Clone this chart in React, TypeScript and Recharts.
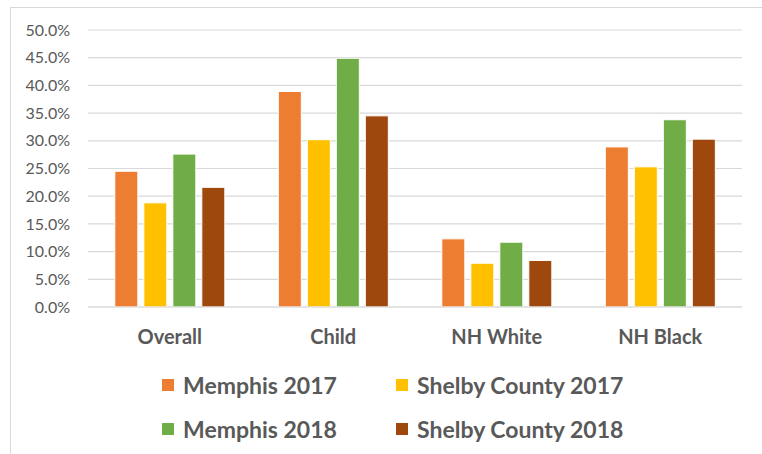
import React from 'react';
import { BarChart, Bar, XAxis, YAxis, CartesianGrid, Legend } from 'recharts';

const categories = ['Overall', 'Child', 'NH White', 'NH Black'];
const memphis2017 = [24.5, 38.9, 12.3, 28.9];
const shelby2017 = [18.8, 30.2, 7.9, 25.3];
const memphis2018 = [27.6, 44.9, 11.7, 33.8];
const shelby2018 = [21.6, 34.5, 8.4, 30.3];
const yTicks = [0, 5, 10, 15, 20, 25, 30, 35, 40, 45, 50];

const seriesNames = ['Memphis 2017', 'Shelby County 2017', 'Memphis 2018', 'Shelby County 2018'];
const seriesKeys = ['m17', 's17', 'm18', 's18'];
const colors = ['#ED7D31', '#FFC000', '#70AD47', '#9E480E'];

const data = categories.map((c, i) => ({
  name: c,
  m17: memphis2017[i],
  s17: shelby2017[i],
  m18: memphis2018[i],
  s18: shelby2018[i],
}));

const FONT = 'Lato, "Open Sans", sans-serif';

const LegendContent = () => {
  const cols = [162, 396];
  const rows = [0, 44];
  return (
    <div style={{ position: 'relative', width: 762, height: 80, fontFamily: FONT }}>
      {seriesNames.map((n, i) => {
        const col = i % 2;
        const row = Math.floor(i / 2);
        return (
          <div
            key={n}
            style={{
              position: 'absolute',
              left: cols[col],
              top: rows[row],
              display: 'flex',
              alignItems: 'center',
              whiteSpace: 'nowrap',
              height: 24,
            }}
          >
            <span style={{ display: 'inline-block', width: 12, height: 12, background: colors[i], marginRight: 9 }} />
            <span style={{ fontSize: 23, fontWeight: 700, color: '#595959', lineHeight: '24px' }}>{n}</span>
          </div>
        );
      })}
    </div>
  );
};

export default function App() {
  return (
    <div style={{ position: 'fixed', left: 0, top: 0, width: 762, height: 454, overflow: 'hidden', background: '#fff' }}>
      <div
        style={{
          position: 'absolute',
          left: 10,
          top: 7,
          width: 800,
          height: 500,
          border: '1px solid #d9d9d9',
          boxSizing: 'border-box',
        }}
      />
      <div style={{ position: 'absolute', left: 0, top: 0 }}>
        <BarChart
          width={762}
          height={454}
          data={data}
          margin={{ top: 30, right: 20, bottom: 107, left: 0 }}
          barCategoryGap="16.4%"
          barGap={6}
        >
          <CartesianGrid vertical={false} stroke="#d9d9d9" strokeWidth={1.2} />
          <XAxis
            dataKey="name"
            height={40}
            axisLine={{ stroke: '#d9d9d9', strokeWidth: 1.2 }}
            tickLine={false}
            tickSize={0}
            tickMargin={23}
            tick={{ fill: '#595959', fontSize: 20, fontWeight: 700, fontFamily: FONT }}
          />
          <YAxis
            width={88}
            domain={[0, 50]}
            ticks={yTicks}
            interval={0}
            axisLine={false}
            tickLine={false}
            tickSize={0}
            tickMargin={18}
            tickFormatter={(v: number) => v.toFixed(1) + '%'}
            tick={{ fill: '#595959', fontSize: 16, fontFamily: FONT }}
          />
          <Legend
            layout="horizontal"
            verticalAlign="middle"
            wrapperStyle={{ top: 373, left: 0, width: 762 }}
            content={<LegendContent />}
          />
          {seriesKeys.map((k, i) => (
            <Bar key={k} dataKey={k} name={seriesNames[i]} fill={colors[i]} stroke="#ffffff" strokeWidth={1} isAnimationActive={false} />
          ))}
        </BarChart>
      </div>
    </div>
  );
}
